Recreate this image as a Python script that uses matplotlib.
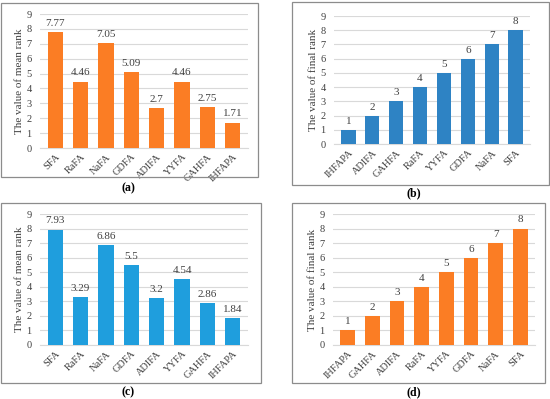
import matplotlib
matplotlib.use("Agg")
import matplotlib.pyplot as plt
from matplotlib.patches import Rectangle

plt.rcParams['font.family'] = ['Liberation Serif', 'DejaVu Serif']

cats_a = ["SFA", "RaFA", "NaFA", "GDFA", "ADIFA", "YYFA", "GAHFA", "IHFAPA"]
vals_a = [7.77, 4.46, 7.05, 5.09, 2.7, 4.46, 2.75, 1.71]
labels_a = ["7.77", "4.46", "7.05", "5.09", "2.7", "4.46", "2.75", "1.71"]

cats_b = ["IHFAPA", "ADIFA", "GAHFA", "RaFA", "YYFA", "GDFA", "NaFA", "SFA"]
vals_b = [1, 2, 3, 4, 5, 6, 7, 8]

cats_c = ["SFA", "RaFA", "NaFA", "GDFA", "ADIFA", "YYFA", "GAHFA", "IHFAPA"]
vals_c = [7.93, 3.29, 6.86, 5.5, 3.2, 4.54, 2.86, 1.84]
labels_c = ["7.93", "3.29", "6.86", "5.5", "3.2", "4.54", "2.86", "1.84"]

cats_d = ["IHFAPA", "GAHFA", "ADIFA", "RaFA", "YYFA", "GDFA", "NaFA", "SFA"]
vals_d = [1, 2, 3, 4, 5, 6, 7, 8]

ORANGE = "#FB7D24"
BLUE_B = "#2E83C4"
BLUE_C = "#1F9EDD"

W, H = 550, 399
fig = plt.figure(figsize=(W/100, H/100), dpi=100)

def fx(x): return x / W
def fy(y): return 1 - y / H

def box(x0, y0, x1, y1):
    fig.patches.append(Rectangle((fx(x0), fy(y1)), fx(x1) - fx(x0), fy(y0) - fy(y1),
                                 transform=fig.transFigure, fill=False,
                                 edgecolor="#8C8C8C", linewidth=0.9))

def panel(rect, cats, vals, labels, color, ylabel):
    x0, y0, x1, y1 = rect
    ax = fig.add_axes([fx(x0), fy(y1), fx(x1) - fx(x0), fy(y0) - fy(y1)])
    xs = range(len(cats))
    ax.bar(xs, vals, width=0.6, color=color, zorder=3)
    for x, v, t in zip(xs, vals, labels):
        ax.text(x, v + 0.28, t, ha="center", va="bottom", fontsize=8, color="#404040")
    ax.set_ylim(0, 9)
    ax.set_xlim(-0.6, len(cats) - 0.4)
    ax.set_yticks(range(10))
    ax.yaxis.grid(True, color="#D9D9D9", linewidth=0.8, zorder=0)
    ax.set_xticks(list(xs))
    ax.set_xticklabels(cats, rotation=45, ha="right", rotation_mode="anchor", fontsize=7.5)
    ax.tick_params(axis="both", length=0, labelsize=7.5, colors="#404040", pad=3)
    ax.tick_params(axis="y", pad=6)
    for s in ["top", "right", "left"]:
        ax.spines[s].set_visible(False)
    ax.spines["bottom"].set_color("#D9D9D9")
    ax.set_ylabel(ylabel, fontsize=8, color="#404040", labelpad=2)
    return ax

panel((40, 14, 248, 148), cats_a, vals_a, labels_a, ORANGE, "The value of mean rank")
panel((334, 16, 530, 144), cats_b, vals_b, [str(v) for v in vals_b], BLUE_B, "The value of final rank")
panel((40, 214, 248, 345), cats_c, vals_c, labels_c, BLUE_C, "The value of mean rank")
panel((333, 214, 535, 345), cats_d, vals_d, [str(v) for v in vals_d], ORANGE, "The value of final rank")

box(1, 3, 258, 177)
box(292, 2, 549, 185)
box(1, 203, 261, 383)
box(292, 203, 545, 383)

for x, y, t in [(128, 188, "(a)"), (414, 193, "(b)"), (128, 392, "(c)"), (414, 392, "(d)")]:
    fig.text(fx(x), fy(y), t, ha="center", va="center", fontsize=8.5, fontweight="bold")

fig.savefig("out.png", dpi=100)
